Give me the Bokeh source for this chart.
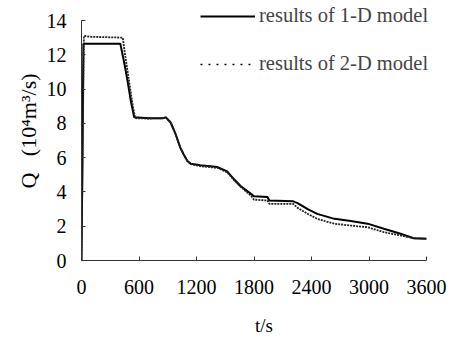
from bokeh.plotting import figure
from bokeh.models import Range1d, FixedTicker, Legend, LegendItem
from bokeh.embed import file_html
from bokeh.resources import INLINE

# 1-D model results (t in s, Q in 10^4 m^3/s)
t_1d = [0, 10, 20, 405, 440, 480, 515, 550, 700, 850, 880, 930, 980, 1030, 1065,
        1105, 1140, 1240, 1420, 1520, 1590, 1660, 1765, 1800, 1940, 1960, 2210,
        2255, 2360, 2460, 2640, 2810, 2985, 3155, 3330, 3465, 3600]
q_1d = [0, 6.0, 12.65, 12.65, 11.7, 10.5, 9.3, 8.35, 8.3, 8.3, 8.35, 8.05, 7.4, 6.6, 6.2,
        5.8, 5.65, 5.55, 5.45, 5.2, 4.75, 4.35, 3.9, 3.75, 3.7, 3.5, 3.45,
        3.35, 3.0, 2.72, 2.43, 2.3, 2.15, 1.85, 1.56, 1.3, 1.27]

# 2-D model results
t_2d = [0, 12, 25, 100, 430, 460, 495, 530, 560, 700, 850, 880, 930, 980, 1030, 1065,
        1105, 1140, 1240, 1420, 1520, 1590, 1660, 1765, 1800, 1940, 1960, 2210,
        2255, 2360, 2460, 2640, 2810, 2985, 3155, 3330, 3465, 3600]
q_2d = [0, 6.5, 13.1, 13.05, 13.0, 11.8, 10.5, 9.2, 8.3, 8.28, 8.3, 8.35, 8.05, 7.4, 6.6, 6.2,
        5.8, 5.62, 5.5, 5.4, 5.15, 4.7, 4.3, 3.8, 3.55, 3.5, 3.3, 3.3,
        3.07, 2.72, 2.43, 2.14, 2.04, 1.94, 1.65, 1.46, 1.3, 1.27]

x_ticks = [0, 600, 1200, 1800, 2400, 3000, 3600]
y_ticks = [0, 2, 4, 6, 8, 10, 12, 14]

legend_1d = "results of 1-D model"
legend_2d = "results of 2-D model"

FONT = "Liberation Serif"

W, H = 450, 345
B_LEFT, B_RIGHT, B_TOP, B_BOTTOM = 81, 4, 1, 85
X_MAX, Y_MAX = 3600, 14
# the plotting area extends a little beyond the last ticks so the legend is not clipped;
# the axis lines themselves stop at the last ticks (bounds)
frame_w = W - B_LEFT - B_RIGHT
frame_h = H - B_TOP - B_BOTTOM
x_end = X_MAX * frame_w / (frame_w - 20)
y_end = Y_MAX * frame_h / (frame_h - 19)

p = figure(width=W, height=H, x_range=Range1d(0, x_end), y_range=Range1d(0, y_end),
           output_backend="svg", toolbar_location=None,
           min_border_left=B_LEFT, min_border_right=B_RIGHT,
           min_border_top=B_TOP, min_border_bottom=B_BOTTOM)
p.outline_line_color = None
p.grid.visible = False
p.background_fill_color = "white"
p.border_fill_color = "white"

r1 = p.line(t_1d, q_1d, line_color="black", line_width=2)
r2 = p.line(t_2d, q_2d, line_color="#222222", line_width=1.8, line_dash="2 1")
# single-point line: draws nothing in the plot, only supplies the legend's dotted sample
r2_leg = p.line(t_2d[:1], q_2d[:1], line_color="black", line_width=1.3, line_dash="2 6")

for ax in (p.xaxis[0], p.yaxis[0]):
    ax.axis_line_color = "#333333"
    ax.axis_line_width = 1
    ax.major_tick_line_color = "#333333"
    ax.major_tick_in = 4
    ax.major_tick_out = 0
    ax.minor_tick_line_color = None
    ax.major_label_text_font = FONT
    ax.major_label_text_font_size = "20px"
    ax.major_label_text_color = "black"
    ax.axis_label_text_font = FONT
    ax.axis_label_text_font_style = "normal"
    ax.axis_label_text_color = "black"

p.xaxis.bounds = (0, X_MAX)
p.yaxis.bounds = (0, Y_MAX)
p.xaxis.ticker = FixedTicker(ticks=x_ticks)
p.yaxis.ticker = FixedTicker(ticks=y_ticks)
p.xaxis.major_label_standoff = 19
p.yaxis.major_label_standoff = 15
p.xaxis.axis_label = "t/s"
p.xaxis.axis_label_text_font_size = "19px"
p.xaxis.axis_label_standoff = 18
p.yaxis.axis_label = "Q\u00a0\u00a0\u00a0(10\u2074m\u00b3/s)"
p.yaxis.axis_label_text_font_size = "22px"
p.yaxis.axis_label_standoff = 3

legend = Legend(items=[LegendItem(label=legend_1d, renderers=[r1]),
                       LegendItem(label=legend_2d, renderers=[r2_leg])],
                location=(119, 185), glyph_width=55, glyph_height=20, label_height=20,
                spacing=25, padding=0, margin=0, label_standoff=4,
                label_text_font=FONT, label_text_font_size="20.5px",
                border_line_color=None, background_fill_alpha=0)
p.add_layout(legend)

open("out.html", "w").write(file_html(p, INLINE))
